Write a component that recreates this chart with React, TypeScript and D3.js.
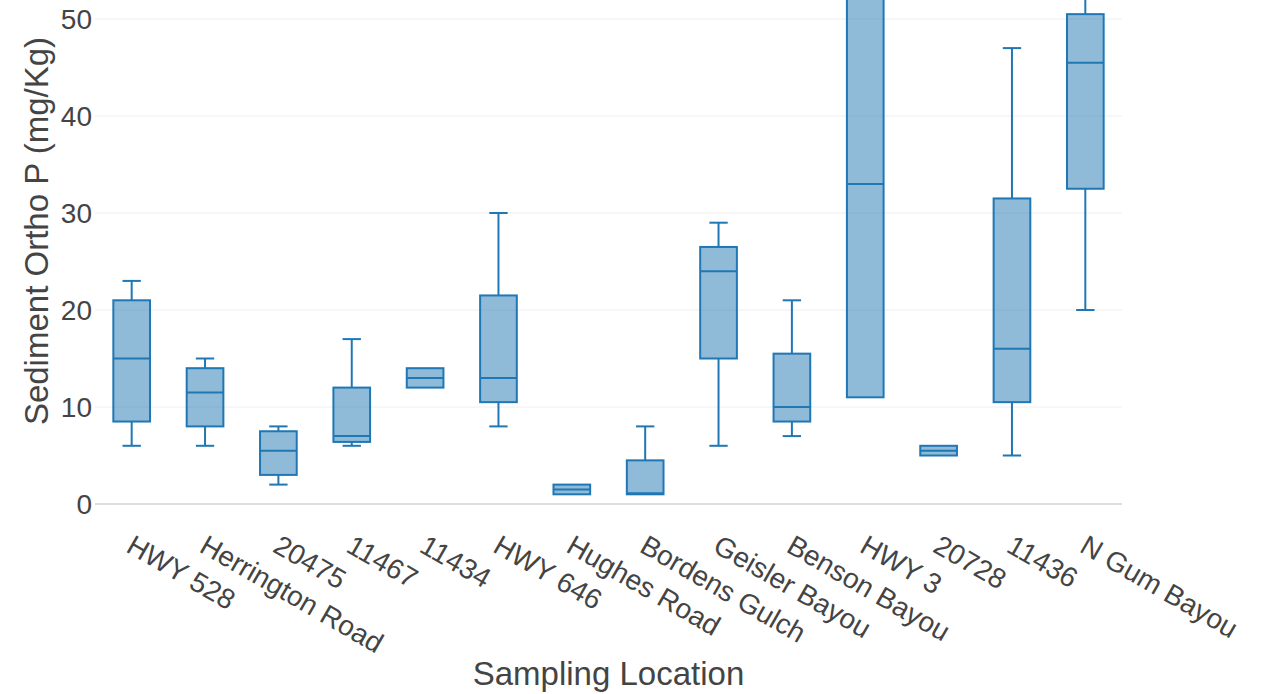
import React, { useRef, useEffect } from "react";
import { select, scaleBand, scaleLinear } from "d3";

const locations = [
  "HWY 528", "Herrington Road", "20475", "11467", "11434", "HWY 646", "Hughes Road",
  "Bordens Gulch", "Geisler Bayou", "Benson Bayou", "HWY 3", "20728", "11436", "N Gum Bayou",
];
const lowerWhisker = [6, 6, 2, 6, 12, 8, 1, 1, 6, 7, 11, 5, 5, 20];
const q1 = [8.5, 8, 3, 6.4, 12, 10.5, 1, 1, 15, 8.5, 11, 5, 10.5, 32.5];
const medians = [15, 11.5, 5.5, 7, 13, 13, 1.5, 1.1, 24, 10, 33, 5.5, 16, 45.5];
const q3 = [21, 14, 7.5, 12, 14, 21.5, 2, 4.5, 26.5, 15.5, 56, 6, 31.5, 50.5];
const upperWhisker = [23, 15, 8, 17, 14, 30, 2, 8, 29, 21, 62, 6, 47, 58];
const yTicks = [0, 10, 20, 30, 40, 50];

const WIDTH = 1273;
const HEIGHT = 694;
const margin = { left: 95, right: 151, top: 0, bottom: 190 };
const STROKE = "#1f77b4";
const FONT = "'Liberation Sans', Arial, sans-serif";

function App() {
  const svgRef = useRef(null);

  useEffect(() => {
    document.body.style.margin = "0";
    const svg = select(svgRef.current);
    svg.selectAll("*").remove();

    const plotW = WIDTH - margin.left - margin.right;
    const plotH = HEIGHT - margin.top - margin.bottom;

    const x = scaleBand()
      .domain(locations)
      .range([margin.left, margin.left + plotW])
      .paddingInner(0)
      .paddingOuter(0);

    const y = scaleLinear()
      .domain([0, 504 / 9.7])
      .range([margin.top + plotH, margin.top]);

    // grid
    svg.append("g")
      .selectAll("line")
      .data(yTicks.filter(d => d !== 0))
      .join("line")
      .attr("x1", margin.left)
      .attr("x2", margin.left + plotW)
      .attr("y1", d => y(d))
      .attr("y2", d => y(d))
      .attr("stroke", "#eee")
      .attr("stroke-width", 1);

    // zero line
    svg.append("line")
      .attr("x1", margin.left)
      .attr("x2", margin.left + plotW)
      .attr("y1", y(0))
      .attr("y2", y(0))
      .attr("stroke", "#ddd")
      .attr("stroke-width", 2);

    // y tick labels
    svg.append("g")
      .selectAll("text")
      .data(yTicks)
      .join("text")
      .attr("x", margin.left - 3)
      .attr("y", d => y(d))
      .attr("dy", "0.36em")
      .attr("text-anchor", "end")
      .attr("font-family", FONT)
      .attr("font-size", 28)
      .attr("fill", "#444")
      .text(d => d);

    // clip
    svg.append("clipPath")
      .attr("id", "plot-clip")
      .append("rect")
      .attr("x", margin.left)
      .attr("y", margin.top)
      .attr("width", plotW)
      .attr("height", plotH + 2);

    const boxW = x.bandwidth() * 0.5;
    const capW = boxW * 0.5;
    const boxes = svg.append("g")
      .attr("clip-path", "url(#plot-clip)")
      .selectAll("g")
      .data(locations)
      .join("g");

    const cx = d => x(d) + x.bandwidth() / 2;

    // whiskers
    boxes.append("line")
      .attr("x1", cx).attr("x2", cx)
      .attr("y1", (d, i) => y(q3[i]))
      .attr("y2", (d, i) => y(upperWhisker[i]))
      .attr("stroke", STROKE).attr("stroke-width", 2);
    boxes.append("line")
      .attr("x1", cx).attr("x2", cx)
      .attr("y1", (d, i) => y(q1[i]))
      .attr("y2", (d, i) => y(lowerWhisker[i]))
      .attr("stroke", STROKE).attr("stroke-width", 2);
    // caps
    boxes.filter((d, i) => upperWhisker[i] > q3[i])
      .append("line")
      .attr("x1", d => cx(d) - capW / 2).attr("x2", d => cx(d) + capW / 2)
      .attr("y1", d => y(upperWhisker[locations.indexOf(d)]))
      .attr("y2", d => y(upperWhisker[locations.indexOf(d)]))
      .attr("stroke", STROKE).attr("stroke-width", 2);
    boxes.filter((d, i) => lowerWhisker[i] < q1[i])
      .append("line")
      .attr("x1", d => cx(d) - capW / 2).attr("x2", d => cx(d) + capW / 2)
      .attr("y1", d => y(lowerWhisker[locations.indexOf(d)]))
      .attr("y2", d => y(lowerWhisker[locations.indexOf(d)]))
      .attr("stroke", STROKE).attr("stroke-width", 2);

    // box
    boxes.append("rect")
      .attr("x", d => cx(d) - boxW / 2)
      .attr("width", boxW)
      .attr("y", (d, i) => y(q3[i]))
      .attr("height", (d, i) => y(q1[i]) - y(q3[i]))
      .attr("fill", STROKE)
      .attr("fill-opacity", 0.5)
      .attr("stroke", STROKE)
      .attr("stroke-width", 2);

    // median
    boxes.append("line")
      .attr("x1", d => cx(d) - boxW / 2).attr("x2", d => cx(d) + boxW / 2)
      .attr("y1", (d, i) => y(medians[i]))
      .attr("y2", (d, i) => y(medians[i]))
      .attr("stroke", STROKE).attr("stroke-width", 2);

    // x tick labels, rotated 30deg
    svg.append("g")
      .selectAll("text")
      .data(locations)
      .join("text")
      .attr("transform", d => `translate(${cx(d) - 7},${551}) rotate(30)`)
      .attr("text-anchor", "start")
      .attr("font-family", FONT)
      .attr("font-size", 28)
      .attr("fill", "#444")
      .text(d => d);

    // axis titles
    svg.append("text")
      .attr("x", margin.left + plotW / 2)
      .attr("y", 685)
      .attr("text-anchor", "middle")
      .attr("font-family", FONT)
      .attr("font-size", 33)
      .attr("fill", "#444")
      .text("Sampling Location");

    svg.append("text")
      .attr("transform", `translate(48,${231}) rotate(-90)`)
      .attr("text-anchor", "middle")
      .attr("font-family", FONT)
      .attr("font-size", 33)
      .attr("fill", "#444")
      .text("Sediment Ortho P (mg/Kg)");
  }, []);

  return (
    <svg ref={svgRef} width={WIDTH} height={HEIGHT} style={{ display: "block", background: "#fff" }} />
  );
}

export default App;
